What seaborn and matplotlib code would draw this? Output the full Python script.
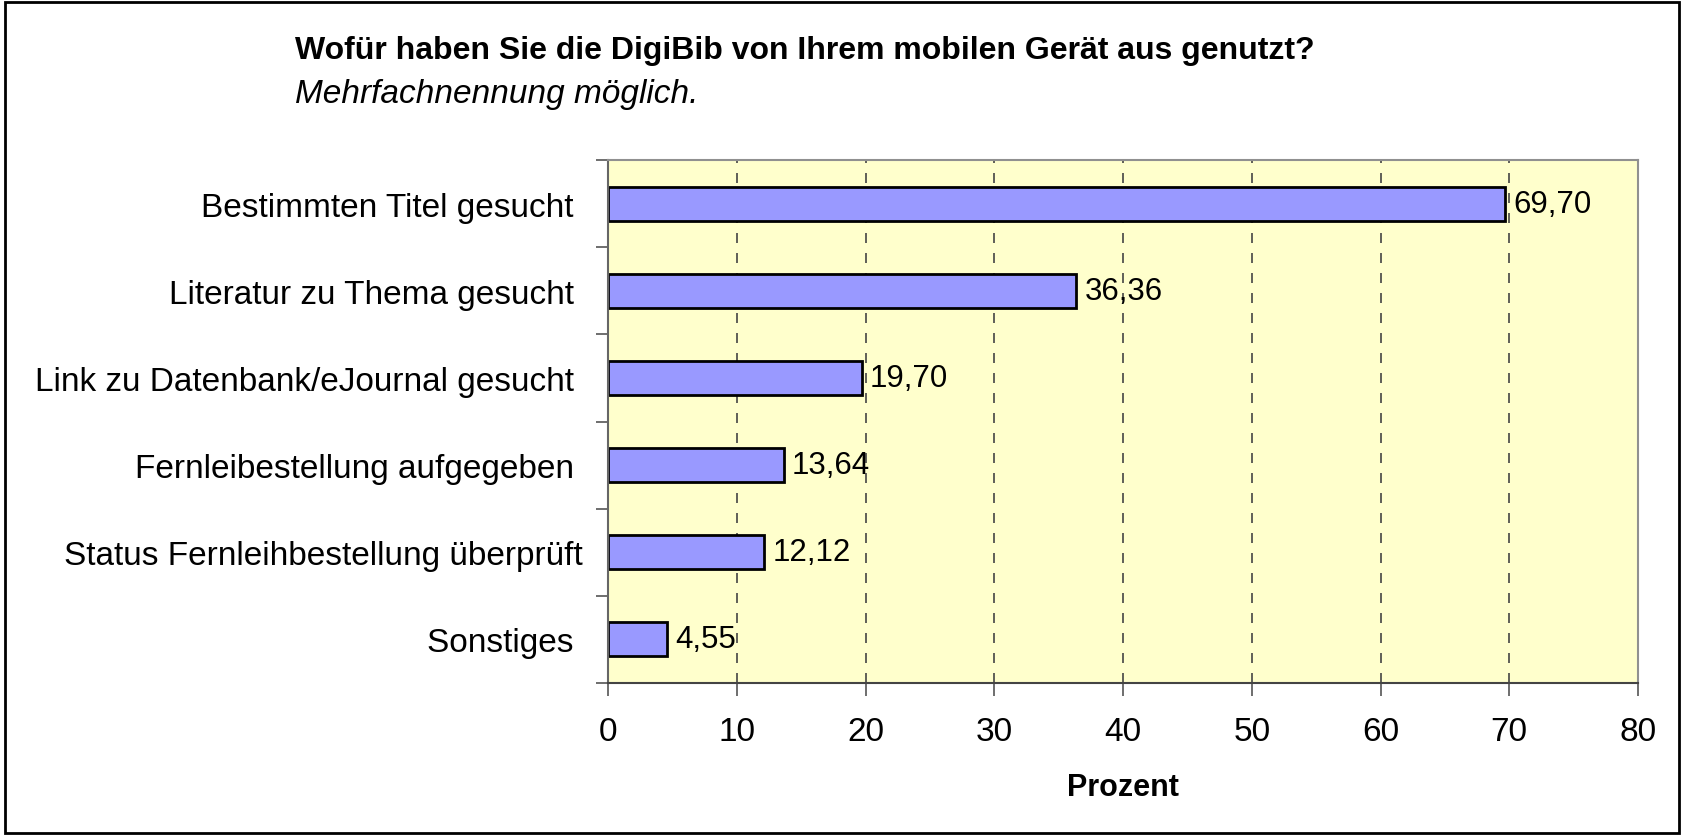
import matplotlib
matplotlib.use("Agg")
import matplotlib.pyplot as plt
import seaborn as sns
import pandas as pd
from matplotlib.patches import Rectangle

categories = [
    "Bestimmten Titel gesucht ",
    "Literatur zu Thema gesucht ",
    "Link zu Datenbank/eJournal gesucht ",
    "Fernleibestellung aufgegeben ",
    "Status Fernleihbestellung überprüft",
    "Sonstiges ",
]
values = [69.70, 36.36, 19.70, 13.64, 12.12, 4.55]
x_ticks = [0, 10, 20, 30, 40, 50, 60, 70, 80]
title = "Wofür haben Sie die DigiBib von Ihrem mobilen Gerät aus genutzt?"
subtitle = "Mehrfachnennung möglich."
xlabel = "Prozent"

sns.set_theme(style="white")
plt.rcParams["font.family"] = ["Liberation Sans", "DejaVu Sans"]
plt.rcParams["text.color"] = "black"
plt.rcParams["axes.labelcolor"] = "black"
plt.rcParams["xtick.labelcolor"] = "black"
plt.rcParams["ytick.labelcolor"] = "black"

df = pd.DataFrame({"cat": categories, "val": values})

fig = plt.figure(figsize=(16.84, 8.37), dpi=100)
ax = fig.add_axes([608/1684, 1 - 684/837, (1638-608)/1684, (684-161)/837])
ax.set_facecolor("#FFFFCC")

sns.barplot(data=df, y="cat", x="val", orient="h", color="#9999FF",
            edgecolor="black", linewidth=2, width=0.39, saturation=1, ax=ax)

ax.set_xlim(0, 80)
ax.set_ylim(5.5, -0.5)
ax.set_xticks(x_ticks)
ax.set_xticklabels([str(t) for t in x_ticks], fontsize=24)
ax.set_yticks(range(len(categories)))
ax.set_yticklabels(categories, fontsize=24)
ax.set_yticks([i - 0.5 for i in range(len(categories) + 1)], minor=True)
ax.tick_params(axis="y", which="major", length=0, pad=18)
ax.tick_params(axis="y", which="minor", length=9, width=1.2, color="#555555", direction="out", left=True)
ax.tick_params(axis="x", which="major", length=9, width=1.2, color="#555555", direction="out", pad=15, bottom=True)
ax.set_ylabel("")
ax.set_xlabel(xlabel, fontsize=22, fontweight="bold", labelpad=18)

for xv in x_ticks[1:-1]:
    ax.axvline(xv, color="#444444", linestyle=(0, (6, 6)), linewidth=1.2, zorder=0.5)

for name, sp in ax.spines.items():
    sp.set_visible(True)
    sp.set_color("#909090")
    sp.set_linewidth(1.5)
ax.spines["bottom"].set_color("#444444")
ax.spines["left"].set_color("#666666")

labels = [f"{v:.2f}".replace(".", ",") for v in values]
ax.bar_label(ax.containers[0], labels=labels, padding=6, fontsize=22.5)

fig.text(295/1684, 1 - 51/837, title, fontsize=23, fontweight="bold", va="center", ha="left")
fig.text(295/1684, 1 - 94/837, subtitle, fontsize=24, fontstyle="italic", va="center", ha="left")

fig.patches.append(Rectangle((0.003, 0.004), 0.994, 0.992, transform=fig.transFigure,
                             fill=False, edgecolor="black", linewidth=2))

fig.savefig("out.png", dpi=100)
